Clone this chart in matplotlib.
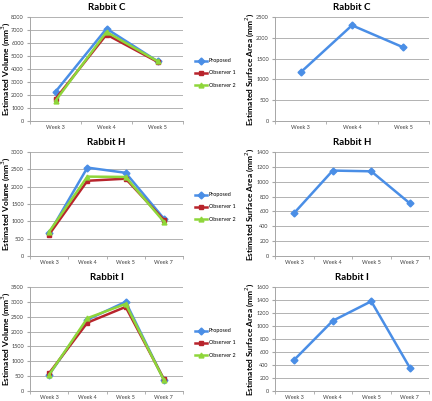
import matplotlib
matplotlib.use("Agg")
import matplotlib.pyplot as plt

plt.rcParams['font.family'] = ['Lato', 'DejaVu Sans']

# podaci sa slike
weeks_c = ["Week 3", "Week 4", "Week 5"]
weeks_hi = ["Week 3", "Week 4", "Week 5", "Week 7"]

vol_c_proposed = [2250, 7100, 4600]
vol_c_obs1 = [1700, 6650, 4550]
vol_c_obs2 = [1550, 6850, 4600]
sa_c = [1170, 2300, 1770]

vol_h_proposed = [650, 2550, 2400, 1080]
vol_h_obs1 = [620, 2170, 2230, 1040]
vol_h_obs2 = [700, 2290, 2280, 990]
sa_h = [580, 1150, 1140, 710]

vol_i_proposed = [550, 2400, 3000, 380]
vol_i_obs1 = [600, 2300, 2830, 400]
vol_i_obs2 = [550, 2450, 2930, 370]
sa_i = [480, 1080, 1380, 360]

blue = "#4a8ee6"
red = "#b8242c"
green = "#8ed63a"
grid_c = "#a6a6a6"

W, H = 432, 401
fig = plt.figure(figsize=(W / 100, H / 100), dpi=100)


def make_ax(x0, x1, y0, y1):
    return fig.add_axes([x0 / W, (H - y1) / H, (x1 - x0) / W, (y1 - y0) / H])


def style(ax, cats, ymax, ystep, title, ylabel, label_x):
    n = len(cats)
    ax.set_xlim(-0.5, n - 0.5)
    ax.set_ylim(0, ymax)
    ax.set_yticks(range(0, ymax + 1, ystep))
    ax.set_xticks(range(n))
    ax.set_xticklabels(cats)
    ax.set_xticks([i - 0.5 for i in range(n + 1)], minor=True)
    ax.tick_params(axis='x', which='major', length=0, labelsize=4, pad=3, colors="#404040")
    ax.tick_params(axis='x', which='minor', length=2.5, color=grid_c)
    ax.tick_params(axis='y', length=2.5, labelsize=4, color=grid_c, labelcolor="#404040", pad=2)
    ax.grid(axis='y', color=grid_c, linewidth=0.6)
    ax.set_axisbelow(True)
    for s in ["top", "right"]:
        ax.spines[s].set_visible(False)
    for s in ["left", "bottom"]:
        ax.spines[s].set_color(grid_c)
        ax.spines[s].set_linewidth(0.7)
    ax.set_title(title, fontsize=7, fontweight='bold', pad=5)
    ax.set_ylabel(ylabel, fontsize=6.0, fontweight='bold')
    ax.yaxis.set_label_coords(label_x, 0.5)


def vol_plot(ax, cats, p, o1, o2, legend_y):
    x = range(len(cats))
    ax.plot(x, p, color=blue, lw=1.8, marker='D', ms=3.5, label="Proposed")
    ax.plot(x, o1, color=red, lw=1.8, marker='s', ms=3.5, label="Observer 1")
    ax.plot(x, o2, color=green, lw=1.8, marker='^', ms=3.5, label="Observer 2")
    fig.legend(handles=ax.get_lines(), loc='center left',
               bbox_to_anchor=(190 / W, (H - legend_y) / H), frameon=False,
               fontsize=3.9, handlelength=2.3, handletextpad=0.3, labelspacing=1.3)


def sa_plot(ax, cats, vals):
    ax.plot(range(len(cats)), vals, color=blue, lw=1.8, marker='D', ms=3.5)


vol_label = "Estimated Volume (mm$^3$)"
sa_label = "Estimated Surface Area (mm$^2$)"

rows = [(17, 121), (152, 256), (287, 391)]
left_lx = -0.12
right_lx = -0.125

ax = make_ax(30, 183, *rows[0])
vol_plot(ax, weeks_c, vol_c_proposed, vol_c_obs1, vol_c_obs2, 73)
style(ax, weeks_c, 8000, 1000, "Rabbit C", vol_label, left_lx)
ax = make_ax(275, 429, *rows[0])
sa_plot(ax, weeks_c, sa_c)
style(ax, weeks_c, 2500, 500, "Rabbit C", sa_label, right_lx)

ax = make_ax(30, 183, *rows[1])
vol_plot(ax, weeks_hi, vol_h_proposed, vol_h_obs1, vol_h_obs2, 207)
style(ax, weeks_hi, 3000, 500, "Rabbit H", vol_label, left_lx)
ax = make_ax(275, 429, *rows[1])
sa_plot(ax, weeks_hi, sa_h)
style(ax, weeks_hi, 1400, 200, "Rabbit H", sa_label, right_lx)

ax = make_ax(30, 183, *rows[2])
vol_plot(ax, weeks_hi, vol_i_proposed, vol_i_obs1, vol_i_obs2, 343)
style(ax, weeks_hi, 3500, 500, "Rabbit I", vol_label, left_lx)
ax = make_ax(275, 429, *rows[2])
sa_plot(ax, weeks_hi, sa_i)
style(ax, weeks_hi, 1600, 200, "Rabbit I", sa_label, right_lx)

fig.savefig("out.png", dpi=100)
